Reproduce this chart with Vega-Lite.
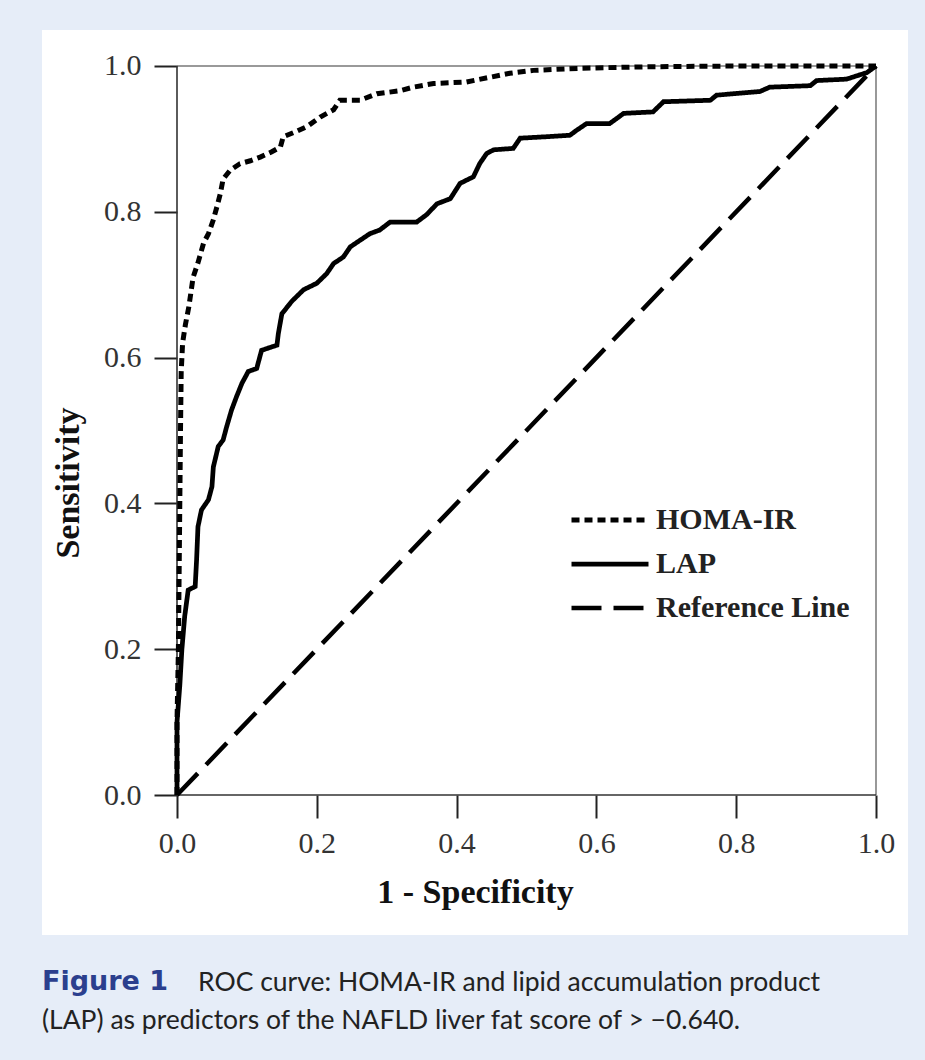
{
  "$schema": "https://vega.github.io/schema/vega-lite/v6.json",
  "width": 866,
  "height": 905,
  "autosize": {"type": "none"},
  "padding": {"left": 42, "top": 30, "right": 17, "bottom": 125},
  "background": "#e6edf8",
  "config": {
    "view": {"fill": "white", "stroke": null}
  },
  "title": {
    "text": "Figure 1",
    "subtitle": ["\u200b\u00a0\u00a0\u00a0\u00a0\u00a0\u00a0\u00a0\u00a0\u00a0\u00a0\u00a0\u00a0\u00a0\u00a0\u00a0\u00a0\u00a0\u00a0\u00a0\u00a0\u00a0\u00a0\u00a0ROC curve: HOMA-IR and lipid accumulation product", "(LAP) as predictors of the NAFLD liver fat score of > \u22120.640."],
    "orient": "bottom",
    "anchor": "start",
    "frame": "group",
    "offset": 34,
    "font": "DejaVu Sans",
    "fontSize": 27,
    "fontWeight": "bold",
    "color": "#2b3f8e",
    "subtitleFont": "Lato",
    "subtitleFontSize": 26.5,
    "subtitleColor": "#222222",
    "subtitleLineHeight": 38,
    "subtitlePadding": -26
  },
  "layer": [
    {
      "data": {"values": [{}]},
      "mark": {"type": "rule", "color": "#777777", "strokeWidth": 1.5},
      "encoding": {"x": {"datum": 0}, "x2": {"datum": 1}, "y": {"datum": 1}}
    },
    {
      "data": {"values": [{}]},
      "mark": {"type": "rule", "color": "#777777", "strokeWidth": 1.5},
      "encoding": {"x": {"datum": 1}, "y": {"datum": 0}, "y2": {"datum": 1}}
    },
    {
      "data": {"values": [{}]},
      "mark": {"type": "rule", "color": "#333333", "strokeWidth": 1.6},
      "encoding": {"x": {"datum": 0}, "x2": {"datum": 1}, "y": {"datum": 0}}
    },
    {
      "data": {"values": [{}]},
      "mark": {"type": "rule", "color": "#333333", "strokeWidth": 1.6},
      "encoding": {"x": {"datum": 0}, "y": {"datum": 0}, "y2": {"datum": 1}}
    },
    {
      "data": {"values": [
        {"series": "Reference Line", "fpr": 0, "tpr": 0},
        {"series": "Reference Line", "fpr": 1, "tpr": 1},
        {"series": "LAP", "fpr": 0, "tpr": 0},
        {"series": "LAP", "fpr": 0, "tpr": 0.1},
        {"series": "LAP", "fpr": 0.004, "tpr": 0.15},
        {"series": "LAP", "fpr": 0.007, "tpr": 0.2},
        {"series": "LAP", "fpr": 0.011, "tpr": 0.245},
        {"series": "LAP", "fpr": 0.016, "tpr": 0.281},
        {"series": "LAP", "fpr": 0.026, "tpr": 0.286},
        {"series": "LAP", "fpr": 0.028, "tpr": 0.322},
        {"series": "LAP", "fpr": 0.03, "tpr": 0.368},
        {"series": "LAP", "fpr": 0.035, "tpr": 0.391},
        {"series": "LAP", "fpr": 0.045, "tpr": 0.405},
        {"series": "LAP", "fpr": 0.05, "tpr": 0.423},
        {"series": "LAP", "fpr": 0.052, "tpr": 0.45},
        {"series": "LAP", "fpr": 0.059, "tpr": 0.478},
        {"series": "LAP", "fpr": 0.066, "tpr": 0.487},
        {"series": "LAP", "fpr": 0.071, "tpr": 0.505},
        {"series": "LAP", "fpr": 0.078, "tpr": 0.528},
        {"series": "LAP", "fpr": 0.085, "tpr": 0.546},
        {"series": "LAP", "fpr": 0.093, "tpr": 0.565},
        {"series": "LAP", "fpr": 0.102, "tpr": 0.581},
        {"series": "LAP", "fpr": 0.114, "tpr": 0.585},
        {"series": "LAP", "fpr": 0.121, "tpr": 0.61},
        {"series": "LAP", "fpr": 0.143, "tpr": 0.617},
        {"series": "LAP", "fpr": 0.145, "tpr": 0.633},
        {"series": "LAP", "fpr": 0.15, "tpr": 0.66},
        {"series": "LAP", "fpr": 0.164, "tpr": 0.677},
        {"series": "LAP", "fpr": 0.181, "tpr": 0.693},
        {"series": "LAP", "fpr": 0.2, "tpr": 0.702},
        {"series": "LAP", "fpr": 0.214, "tpr": 0.715},
        {"series": "LAP", "fpr": 0.224, "tpr": 0.729},
        {"series": "LAP", "fpr": 0.238, "tpr": 0.738},
        {"series": "LAP", "fpr": 0.248, "tpr": 0.752},
        {"series": "LAP", "fpr": 0.262, "tpr": 0.761},
        {"series": "LAP", "fpr": 0.276, "tpr": 0.77},
        {"series": "LAP", "fpr": 0.29, "tpr": 0.775},
        {"series": "LAP", "fpr": 0.305, "tpr": 0.786},
        {"series": "LAP", "fpr": 0.343, "tpr": 0.786},
        {"series": "LAP", "fpr": 0.357, "tpr": 0.796},
        {"series": "LAP", "fpr": 0.372, "tpr": 0.811},
        {"series": "LAP", "fpr": 0.391, "tpr": 0.818},
        {"series": "LAP", "fpr": 0.405, "tpr": 0.839},
        {"series": "LAP", "fpr": 0.424, "tpr": 0.848},
        {"series": "LAP", "fpr": 0.433, "tpr": 0.866},
        {"series": "LAP", "fpr": 0.443, "tpr": 0.88},
        {"series": "LAP", "fpr": 0.453, "tpr": 0.885},
        {"series": "LAP", "fpr": 0.481, "tpr": 0.887},
        {"series": "LAP", "fpr": 0.491, "tpr": 0.901},
        {"series": "LAP", "fpr": 0.529, "tpr": 0.903},
        {"series": "LAP", "fpr": 0.562, "tpr": 0.905},
        {"series": "LAP", "fpr": 0.572, "tpr": 0.912},
        {"series": "LAP", "fpr": 0.586, "tpr": 0.921},
        {"series": "LAP", "fpr": 0.619, "tpr": 0.921},
        {"series": "LAP", "fpr": 0.639, "tpr": 0.935},
        {"series": "LAP", "fpr": 0.681, "tpr": 0.937},
        {"series": "LAP", "fpr": 0.696, "tpr": 0.951},
        {"series": "LAP", "fpr": 0.763, "tpr": 0.953},
        {"series": "LAP", "fpr": 0.772, "tpr": 0.96},
        {"series": "LAP", "fpr": 0.834, "tpr": 0.965},
        {"series": "LAP", "fpr": 0.848, "tpr": 0.971},
        {"series": "LAP", "fpr": 0.906, "tpr": 0.973},
        {"series": "LAP", "fpr": 0.915, "tpr": 0.98},
        {"series": "LAP", "fpr": 0.958, "tpr": 0.982},
        {"series": "LAP", "fpr": 0.987, "tpr": 0.991},
        {"series": "LAP", "fpr": 1, "tpr": 1},
        {"series": "HOMA-IR", "fpr": 0, "tpr": 0},
        {"series": "HOMA-IR", "fpr": 0, "tpr": 0.1},
        {"series": "HOMA-IR", "fpr": 0.002, "tpr": 0.2},
        {"series": "HOMA-IR", "fpr": 0.003, "tpr": 0.3},
        {"series": "HOMA-IR", "fpr": 0.004, "tpr": 0.4},
        {"series": "HOMA-IR", "fpr": 0.005, "tpr": 0.5},
        {"series": "HOMA-IR", "fpr": 0.006, "tpr": 0.58},
        {"series": "HOMA-IR", "fpr": 0.008, "tpr": 0.62},
        {"series": "HOMA-IR", "fpr": 0.012, "tpr": 0.645},
        {"series": "HOMA-IR", "fpr": 0.017, "tpr": 0.67},
        {"series": "HOMA-IR", "fpr": 0.023, "tpr": 0.71},
        {"series": "HOMA-IR", "fpr": 0.03, "tpr": 0.73},
        {"series": "HOMA-IR", "fpr": 0.038, "tpr": 0.757},
        {"series": "HOMA-IR", "fpr": 0.045, "tpr": 0.77},
        {"series": "HOMA-IR", "fpr": 0.052, "tpr": 0.789},
        {"series": "HOMA-IR", "fpr": 0.058, "tpr": 0.81},
        {"series": "HOMA-IR", "fpr": 0.062, "tpr": 0.825},
        {"series": "HOMA-IR", "fpr": 0.066, "tpr": 0.845},
        {"series": "HOMA-IR", "fpr": 0.076, "tpr": 0.857},
        {"series": "HOMA-IR", "fpr": 0.09, "tpr": 0.866},
        {"series": "HOMA-IR", "fpr": 0.105, "tpr": 0.87},
        {"series": "HOMA-IR", "fpr": 0.119, "tpr": 0.875},
        {"series": "HOMA-IR", "fpr": 0.135, "tpr": 0.882},
        {"series": "HOMA-IR", "fpr": 0.148, "tpr": 0.889},
        {"series": "HOMA-IR", "fpr": 0.152, "tpr": 0.903},
        {"series": "HOMA-IR", "fpr": 0.17, "tpr": 0.91},
        {"series": "HOMA-IR", "fpr": 0.186, "tpr": 0.917},
        {"series": "HOMA-IR", "fpr": 0.205, "tpr": 0.93},
        {"series": "HOMA-IR", "fpr": 0.224, "tpr": 0.94},
        {"series": "HOMA-IR", "fpr": 0.233, "tpr": 0.953},
        {"series": "HOMA-IR", "fpr": 0.262, "tpr": 0.953},
        {"series": "HOMA-IR", "fpr": 0.286, "tpr": 0.962},
        {"series": "HOMA-IR", "fpr": 0.319, "tpr": 0.966},
        {"series": "HOMA-IR", "fpr": 0.338, "tpr": 0.971},
        {"series": "HOMA-IR", "fpr": 0.367, "tpr": 0.976},
        {"series": "HOMA-IR", "fpr": 0.414, "tpr": 0.978},
        {"series": "HOMA-IR", "fpr": 0.45, "tpr": 0.985},
        {"series": "HOMA-IR", "fpr": 0.476, "tpr": 0.99},
        {"series": "HOMA-IR", "fpr": 0.51, "tpr": 0.994},
        {"series": "HOMA-IR", "fpr": 0.58, "tpr": 0.997},
        {"series": "HOMA-IR", "fpr": 0.677, "tpr": 0.999},
        {"series": "HOMA-IR", "fpr": 0.8, "tpr": 1},
        {"series": "HOMA-IR", "fpr": 1, "tpr": 1}
      ]},
      "mark": {"type": "line", "color": "black", "strokeCap": "butt", "strokeJoin": "miter"},
      "encoding": {
        "x": {
          "field": "fpr", "type": "quantitative",
          "scale": {"domain": [-0.19313, 1.04578], "nice": false, "zero": false},
          "axis": {
            "orient": "bottom", "offset": -140, "values": [0, 0.2, 0.4, 0.6, 0.8, 1], "format": ".1f",
            "domain": false, "grid": false, "labelFlush": false, "labelOverlap": false,
            "tickSize": 23, "tickWidth": 2, "tickColor": "#222222",
            "labelFont": "Liberation Serif", "labelFontSize": 30, "labelColor": "#333333", "labelPadding": 10,
            "title": "1 - Specificity", "titleFont": "Liberation Serif", "titleFontSize": 34, "titleFontWeight": "bold", "titleColor": "#111111", "titlePadding": 17
          }
        },
        "y": {
          "field": "tpr", "type": "quantitative",
          "scale": {"domain": [-0.19204, 1.04938], "nice": false, "zero": false},
          "axis": {
            "orient": "left", "offset": -135, "values": [0, 0.2, 0.4, 0.6, 0.8, 1], "format": ".1f",
            "domain": false, "grid": false, "labelFlush": false, "labelOverlap": false,
            "tickSize": 23, "tickWidth": 2, "tickColor": "#222222",
            "labelFont": "Liberation Serif", "labelFontSize": 30, "labelColor": "#333333", "labelPadding": 13,
            "title": "Sensitivity", "titleFont": "Liberation Serif", "titleFontSize": 34, "titleFontWeight": "bold", "titleColor": "#111111", "titlePadding": 18
          }
        },
        "order": [{"field": "fpr", "type": "quantitative"}, {"field": "tpr", "type": "quantitative"}],
        "strokeDash": {
          "field": "series", "type": "nominal",
          "scale": {"domain": ["HOMA-IR", "LAP", "Reference Line"], "range": [[8, 5], [1, 0], [30, 12]]},
          "legend": {
            "orient": "none", "legendX": 527, "legendY": 468, "title": null,
            "symbolType": "stroke", "symbolSize": 5929, "clipHeight": 44, "rowPadding": 0,
            "symbolStrokeColor": "black",
            "labelFont": "Liberation Serif", "labelFontSize": 30, "labelFontWeight": "bold", "labelColor": "#222222", "labelOffset": 5, "labelLimit": 400
          }
        },
        "strokeWidth": {
          "field": "series", "type": "nominal",
          "scale": {"domain": ["HOMA-IR", "LAP", "Reference Line"], "range": [5, 4.5, 2]}
        }
      }
    }
  ]
}
